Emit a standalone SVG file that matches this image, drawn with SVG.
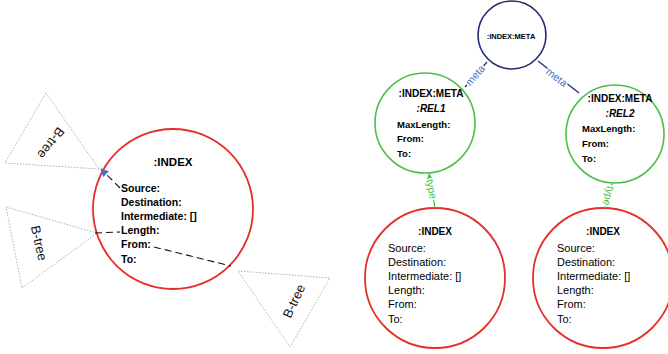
<svg xmlns="http://www.w3.org/2000/svg" width="668" height="354" viewBox="0 0 668 354">
  <style>
    text { font-family: "Liberation Sans", Arial, sans-serif; fill: #000; }
    .red { fill: #fff; stroke: #e3302a; stroke-width: 1.8; }
    .green { fill: #fff; stroke: #4cbf47; stroke-width: 1.6; }
    .navy { fill: #fff; stroke: #1f2a6e; stroke-width: 1.6; }
    .tree { fill: none; stroke: #9a9a9a; stroke-width: 0.8; stroke-dasharray: 1.5 1.5; }
    .dash { fill: none; stroke: #111; stroke-width: 1.1; stroke-dasharray: 7 4; }
    .metaline { stroke: #1f2a6e; stroke-width: 1.2; fill: none; }
    .typeline { stroke: #4cbf47; stroke-width: 1.2; fill: none; }
    .b { font-weight: bold; }
    .bi { font-weight: bold; font-style: italic; }
    .lbl { font-size: 10.5px; text-anchor: middle; dominant-baseline: central; stroke: #fff; stroke-width: 3; paint-order: stroke; }
    .treelbl { font-size: 13px; text-anchor: middle; dominant-baseline: central; fill: #111; }
  </style>
  <defs>
    <marker id="blueHead" viewBox="0 0 10 10" refX="9" refY="5" markerWidth="8" markerHeight="8" orient="auto" markerUnits="userSpaceOnUse">
      <path d="M0,0 L10,5 L0,10 z" fill="#4a6fc0"/>
    </marker>
    <marker id="greenHead" viewBox="0 0 10 10" refX="9" refY="5" markerWidth="7" markerHeight="7" orient="auto" markerUnits="userSpaceOnUse">
      <path d="M0,0 L10,5 L0,10 z" fill="#4cbf47"/>
    </marker>
  </defs>

  <!-- B-tree triangles -->
  <g id="btree1">
    <polygon class="tree" points="46,93 5,163 99,169"/>
    <text class="treelbl" transform="translate(51,143) rotate(127)">B-tree</text>
  </g>
  <g id="btree2">
    <polygon class="tree" points="6,207 97,233 22,288"/>
    <text class="treelbl" transform="translate(39,243) rotate(77)">B-tree</text>
  </g>
  <g id="btree3">
    <polygon class="tree" points="238,271 330,278 290,347"/>
    <text class="treelbl" transform="translate(294,301) rotate(-65)">B-tree</text>
  </g>

  <!-- standalone index node -->
  <g id="index-main">
    <circle class="red" cx="173" cy="209" r="80"/>
    <text class="b" x="173" y="166" font-size="11.5" text-anchor="middle">:INDEX</text>
    <g class="b" font-size="10.5">
      <text x="121" y="192">Source:</text>
      <text x="121" y="206">Destination:</text>
      <text x="121" y="220">Intermediate: []</text>
      <text x="121" y="234">Length:</text>
      <text x="121" y="248">From:</text>
      <text x="121" y="263">To:</text>
    </g>
  </g>

  <!-- meta root -->
  <g id="meta-root">
    <circle class="navy" cx="512" cy="35" r="34"/>
    <text class="b" x="511" y="38.5" font-size="7.5" text-anchor="middle">:INDEX:META</text>
  </g>

  <!-- relation meta nodes -->
  <g id="meta-rel1">
    <circle class="green" cx="425" cy="123" r="50"/>
    <text class="b" x="431" y="97" font-size="10" text-anchor="middle">:INDEX:META</text>
    <text class="bi" x="431" y="112" font-size="10" text-anchor="middle">:REL1</text>
    <g class="b" font-size="9.5">
      <text x="397" y="128">MaxLength:</text>
      <text x="397" y="142">From:</text>
      <text x="397" y="157">To:</text>
    </g>
  </g>
  <g id="meta-rel2">
    <circle class="green" cx="615" cy="134" r="49"/>
    <text class="b" x="620" y="102" font-size="10" text-anchor="middle">:INDEX:META</text>
    <text class="bi" x="620" y="117" font-size="10" text-anchor="middle">:REL2</text>
    <g class="b" font-size="9.5">
      <text x="582" y="132">MaxLength:</text>
      <text x="582" y="147">From:</text>
      <text x="582" y="162">To:</text>
    </g>
  </g>

  <!-- typed index nodes -->
  <g id="index-rel1">
    <circle class="red" cx="435" cy="278" r="70"/>
    <text class="b" x="435" y="235" font-size="10" text-anchor="middle">:INDEX</text>
    <g font-size="11">
      <text x="388" y="252">Source:</text>
      <text x="388" y="266">Destination:</text>
      <text x="388" y="280">Intermediate: []</text>
      <text x="388" y="294">Length:</text>
      <text x="388" y="308">From:</text>
      <text x="388" y="323">To:</text>
    </g>
  </g>
  <g id="index-rel2">
    <circle class="red" cx="603" cy="278" r="70"/>
    <text class="b" x="603" y="235" font-size="10" text-anchor="middle">:INDEX</text>
    <g font-size="11">
      <text x="557" y="252">Source:</text>
      <text x="557" y="266">Destination:</text>
      <text x="557" y="280">Intermediate: []</text>
      <text x="557" y="294">Length:</text>
      <text x="557" y="308">From:</text>
      <text x="557" y="323">To:</text>
    </g>
  </g>

  <!-- connectors -->
  <g id="connectors">
    <path class="dash" d="M120,188 L101,169" marker-end="url(#blueHead)"/>
    <path class="dash" d="M95,233 L120,232"/>
    <path class="dash" d="M154,247 L231,266"/>

    <path class="metaline" d="M487,62 L465,87"/>
    <text class="lbl" style="fill:#4a6fc0" transform="translate(475,75) rotate(-49)">meta</text>
    <path class="metaline" d="M538,61 L579,93"/>
    <text class="lbl" style="fill:#4a6fc0" transform="translate(557,77) rotate(38)">meta</text>

    <path class="typeline" d="M435,208 L429,174" marker-end="url(#greenHead)"/>
    <text class="lbl" style="fill:#4cbf47" transform="translate(432,189) rotate(80)">type</text>
    <path class="typeline" d="M605,208 L612,184" marker-end="url(#greenHead)"/>
    <text class="lbl" style="fill:#4cbf47" transform="translate(609,196) rotate(104)">type</text>
  </g>
</svg>
